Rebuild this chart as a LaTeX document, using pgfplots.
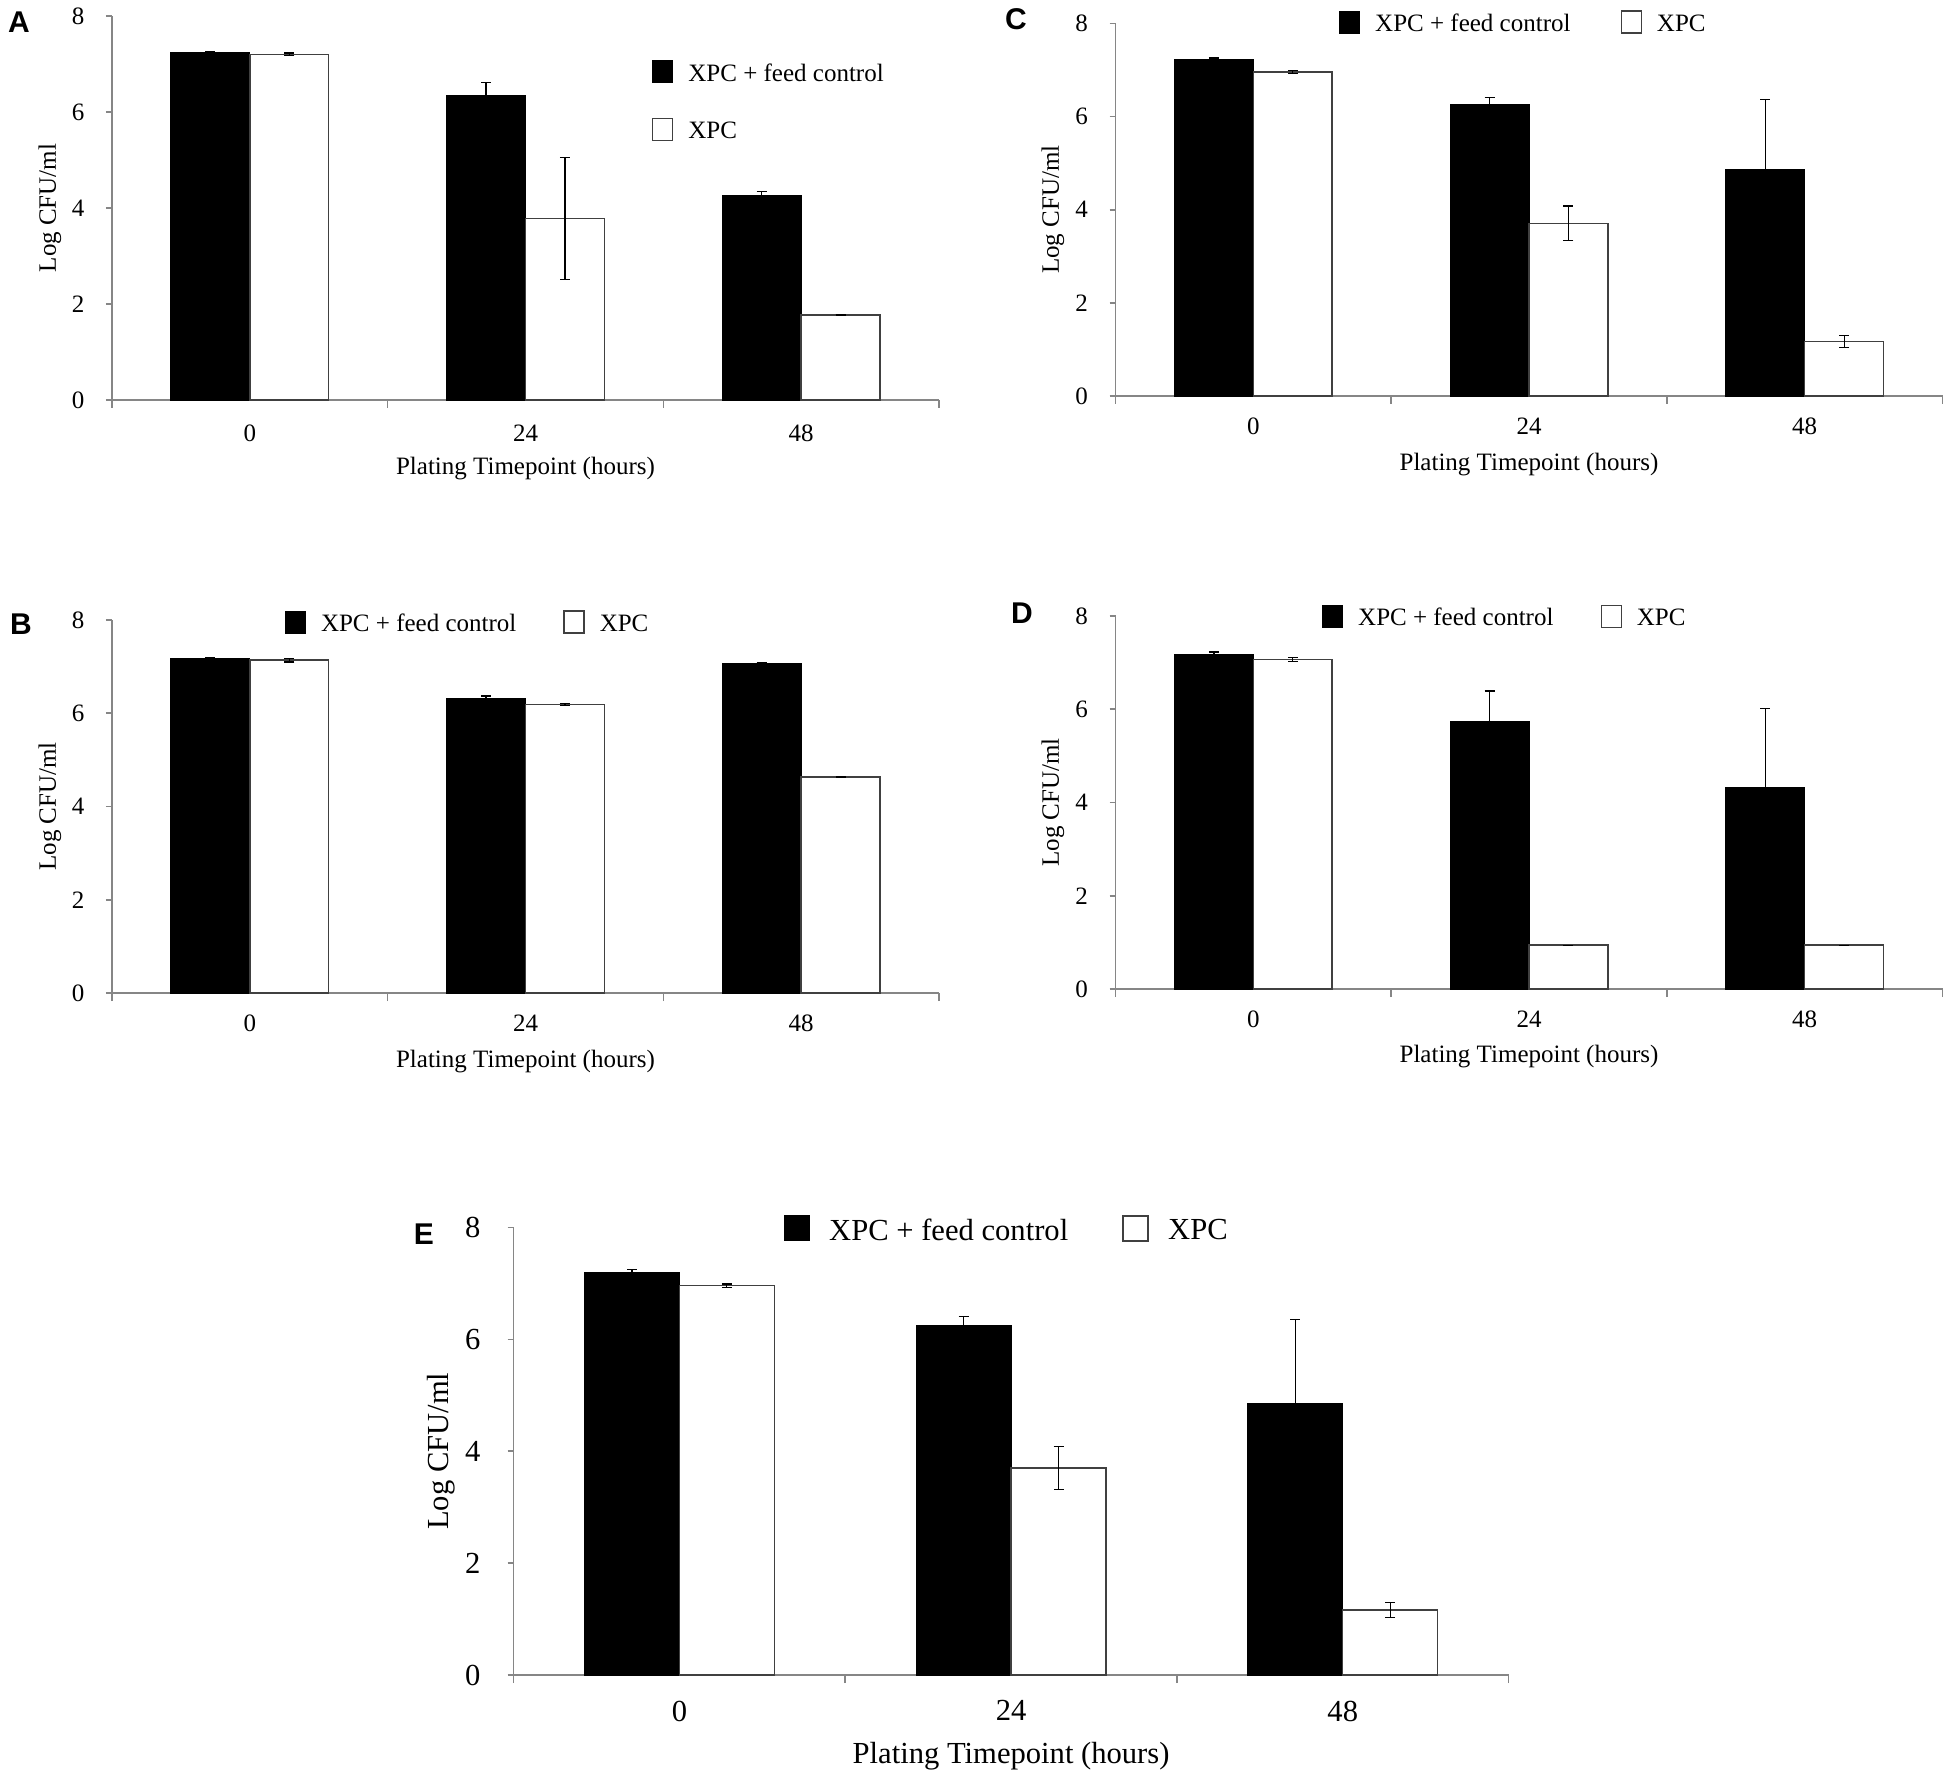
\documentclass[border=0pt]{standalone}
\usepackage{fontspec}
\setmainfont{Liberation Serif}
\setsansfont{Liberation Sans}
\usepackage{pgfplots}
\pgfplotsset{compat=1.18}
\definecolor{axisgray}{RGB}{134,134,134}
\pgfplotsset{
 panel/.style={
  scale only axis, anchor=south west,
  xmin=0,xmax=3,ymin=0,ymax=8,
  axis x line=bottom, axis y line=left,
  axis line style={-,draw=axisgray,line width=0.8pt},
  xtick={0.5,1.5,2.5}, xticklabels={0,24,48},
  minor xtick={0,1,2,3},
  ytick={0,2,4,6,8},
  tick align=outside,
  major tick length=3pt, minor tick length=4pt,
  tick style={draw=axisgray,line width=0.8pt},
  major x tick style={draw=none},
  /pgf/number format/assume math mode=true,
  xlabel={Plating Timepoint (hours)}, ylabel={Log CFU/ml},
  clip=false,
  legend cell align=left,
  legend image code/.code={\draw[##1] (0pt,-4.3pt) rectangle (10pt,6.7pt);},
 },
 small/.style={
  tick label style={font=\fontsize{12.5}{15}\selectfont},
  label style={font=\fontsize{12.5}{15}\selectfont},
  legend style={font=\fontsize{12.5}{15}\selectfont, draw=none, fill=none, inner sep=0pt, outer sep=0pt,
     nodes={inner sep=0pt}},
  yticklabel style={xshift=-7.3pt},
  xticklabel style={yshift=-4.6pt},
 },
 fc/.style={ybar, bar width=0.286, bar shift=0, fill=black, draw=black, line width=0.6pt,
   error bars/.cd, y dir=both, y explicit, error mark=|,
   error bar style={line width=0.6pt,black},
   error mark options={mark size=2.5pt,line width=0.6pt,black}},
 xp/.style={ybar, bar width=0.286, bar shift=0, fill=white, draw=black!75, line width=0.7pt,
   error bars/.cd, y dir=both, y explicit, error mark=|,
   error bar style={line width=0.6pt,black},
   error mark options={mark size=2.5pt,line width=0.6pt,black}},
}
\begin{document}
\begin{tikzpicture}
\useasboundingbox (0pt,0pt) rectangle (975pt,-887.5pt);
\fill[white] (0pt,0pt) rectangle (975pt,-887.5pt);

% ---------- A ----------
\begin{axis}[panel, small, at={(56pt,-200pt)}, width=413.5pt, height=192pt,
  xticklabel style={yshift=-1.5pt},
  xlabel style={at={(axis description cs:0.5,0)}, anchor=center, yshift=-34.5pt},
  ylabel style={at={(axis description cs:-0.075,0.5)}, anchor=center},
  legend style={at={(0.653,0.886)}, anchor=north west, row sep=17pt,
    /tikz/every odd column/.style={column sep=7.5pt}}]
\addplot[fc] coordinates {(0.357,7.24) +- (0,0.02) (1.357,6.34) +- (0,0.28) (2.357,4.25) +- (0,0.10)};
\addlegendentry{XPC + feed control}
\addplot[xp] coordinates {(0.643,7.20) +- (0,0.03) (1.643,3.78) +- (0,1.27) (2.643,1.77) +- (0,0.0)};
\addlegendentry{XPC}
\end{axis}

% ---------- B ----------
\begin{axis}[panel, small, at={(56pt,-496.5pt)}, width=413.5pt, height=186.5pt,
  xlabel style={at={(axis description cs:0.5,0)}, anchor=center, yshift=-34.5pt},
  ylabel style={at={(axis description cs:-0.075,0.5)}, anchor=center},
  legend columns=2,
  legend style={at={(0.209,0.993)}, anchor=west,
    /tikz/every odd column/.style={column sep=7.5pt},
    /tikz/every even column/.style={column sep=23.5pt}}]
\addplot[fc] coordinates {(0.357,7.17) +- (0,0.02) (1.357,6.31) +- (0,0.06) (2.357,7.06) +- (0,0.02)};
\addlegendentry{XPC + feed control}
\addplot[xp] coordinates {(0.643,7.14) +- (0,0.04) (1.643,6.19) +- (0,0.02) (2.643,4.63) +- (0,0.01)};
\addlegendentry{XPC}
\end{axis}

% ---------- C ----------
\begin{axis}[panel, small, at={(557.75pt,-198pt)}, width=413.5pt, height=186.25pt,
  xlabel style={at={(axis description cs:0.5,0)}, anchor=center, yshift=-34.5pt},
  ylabel style={at={(axis description cs:-0.0756,0.5)}, anchor=center},
  legend columns=2,
  legend style={at={(0.2703,1.0023)}, anchor=west,
    /tikz/every odd column/.style={column sep=7.5pt},
    /tikz/every even column/.style={column sep=25pt}}]
\addplot[fc] coordinates {(0.357,7.22) +- (0,0.04) (1.357,6.26) +- (0,0.15) (2.357,4.87) +- (0,1.50)};
\addlegendentry{XPC + feed control}
\addplot[xp] coordinates {(0.643,6.96) +- (0,0.03) (1.643,3.71) +- (0,0.37) (2.643,1.17) +- (0,0.13)};
\addlegendentry{XPC}
\end{axis}

% ---------- D ----------
\begin{axis}[panel, small, at={(557.75pt,-494.5pt)}, width=413.5pt, height=186.5pt,
  xlabel style={at={(axis description cs:0.5,0)}, anchor=center, yshift=-34pt},
  ylabel style={at={(axis description cs:-0.0756,0.5)}, anchor=center},
  legend columns=2,
  legend style={at={(0.2497,0.998)}, anchor=west,
    /tikz/every odd column/.style={column sep=7.5pt},
    /tikz/every even column/.style={column sep=23.5pt}}]
\addplot[fc] coordinates {(0.357,7.18) +- (0,0.05) (1.357,5.73) +- (0,0.66) (2.357,4.32) +- (0,1.70)};
\addlegendentry{XPC + feed control}
\addplot[xp] coordinates {(0.643,7.07) +- (0,0.04) (1.643,0.94) +- (0,0.0) (2.643,0.94) +- (0,0.0)};
\addlegendentry{XPC}
\end{axis}

% ---------- E ----------
\begin{axis}[panel, at={(256.8pt,-837.5pt)}, width=497.5pt, height=223.75pt,
  tick label style={font=\fontsize{15.3}{18}\selectfont},
  label style={font=\fontsize{15.3}{18}\selectfont},
  yticklabel style={xshift=-10pt},
  xticklabel style={yshift=-6.3pt},
  xlabel style={at={(axis description cs:0.5,0)}, anchor=center, yshift=-40.5pt},
  ylabel style={at={(axis description cs:-0.0724,0.5)}, anchor=center},
  legend image code/.code={\draw[#1] (0pt,-4.8pt) rectangle (12.5pt,7.7pt);},
  legend columns=2,
  legend style={font=\fontsize{15.3}{18}\selectfont, draw=none, fill=none, inner sep=0pt, outer sep=0pt,
    nodes={inner sep=0pt},
    at={(0.2713,0.996)}, anchor=west,
    /tikz/every odd column/.style={column sep=9.75pt},
    /tikz/every even column/.style={column sep=27pt}}]
\addplot[fc] coordinates {(0.357,7.20) +- (0,0.05) (1.357,6.25) +- (0,0.16) (2.357,4.86) +- (0,1.50)};
\addlegendentry{XPC + feed control}
\addplot[xp] coordinates {(0.643,6.96) +- (0,0.03) (1.643,3.70) +- (0,0.38) (2.643,1.16) +- (0,0.13)};
\addlegendentry{XPC}
\end{axis}

% panel letters
\begin{scope}[every node/.style={font=\sffamily\bfseries\fontsize{15}{17}\selectfont}]
\node at (9.5pt,-11pt) {A};
\node at (10.5pt,-312pt) {B};
\node at (508pt,-9.5pt) {C};
\node at (511pt,-306.5pt) {D};
\node at (212pt,-617pt) {E};
\end{scope}
\end{tikzpicture}
\end{document}
